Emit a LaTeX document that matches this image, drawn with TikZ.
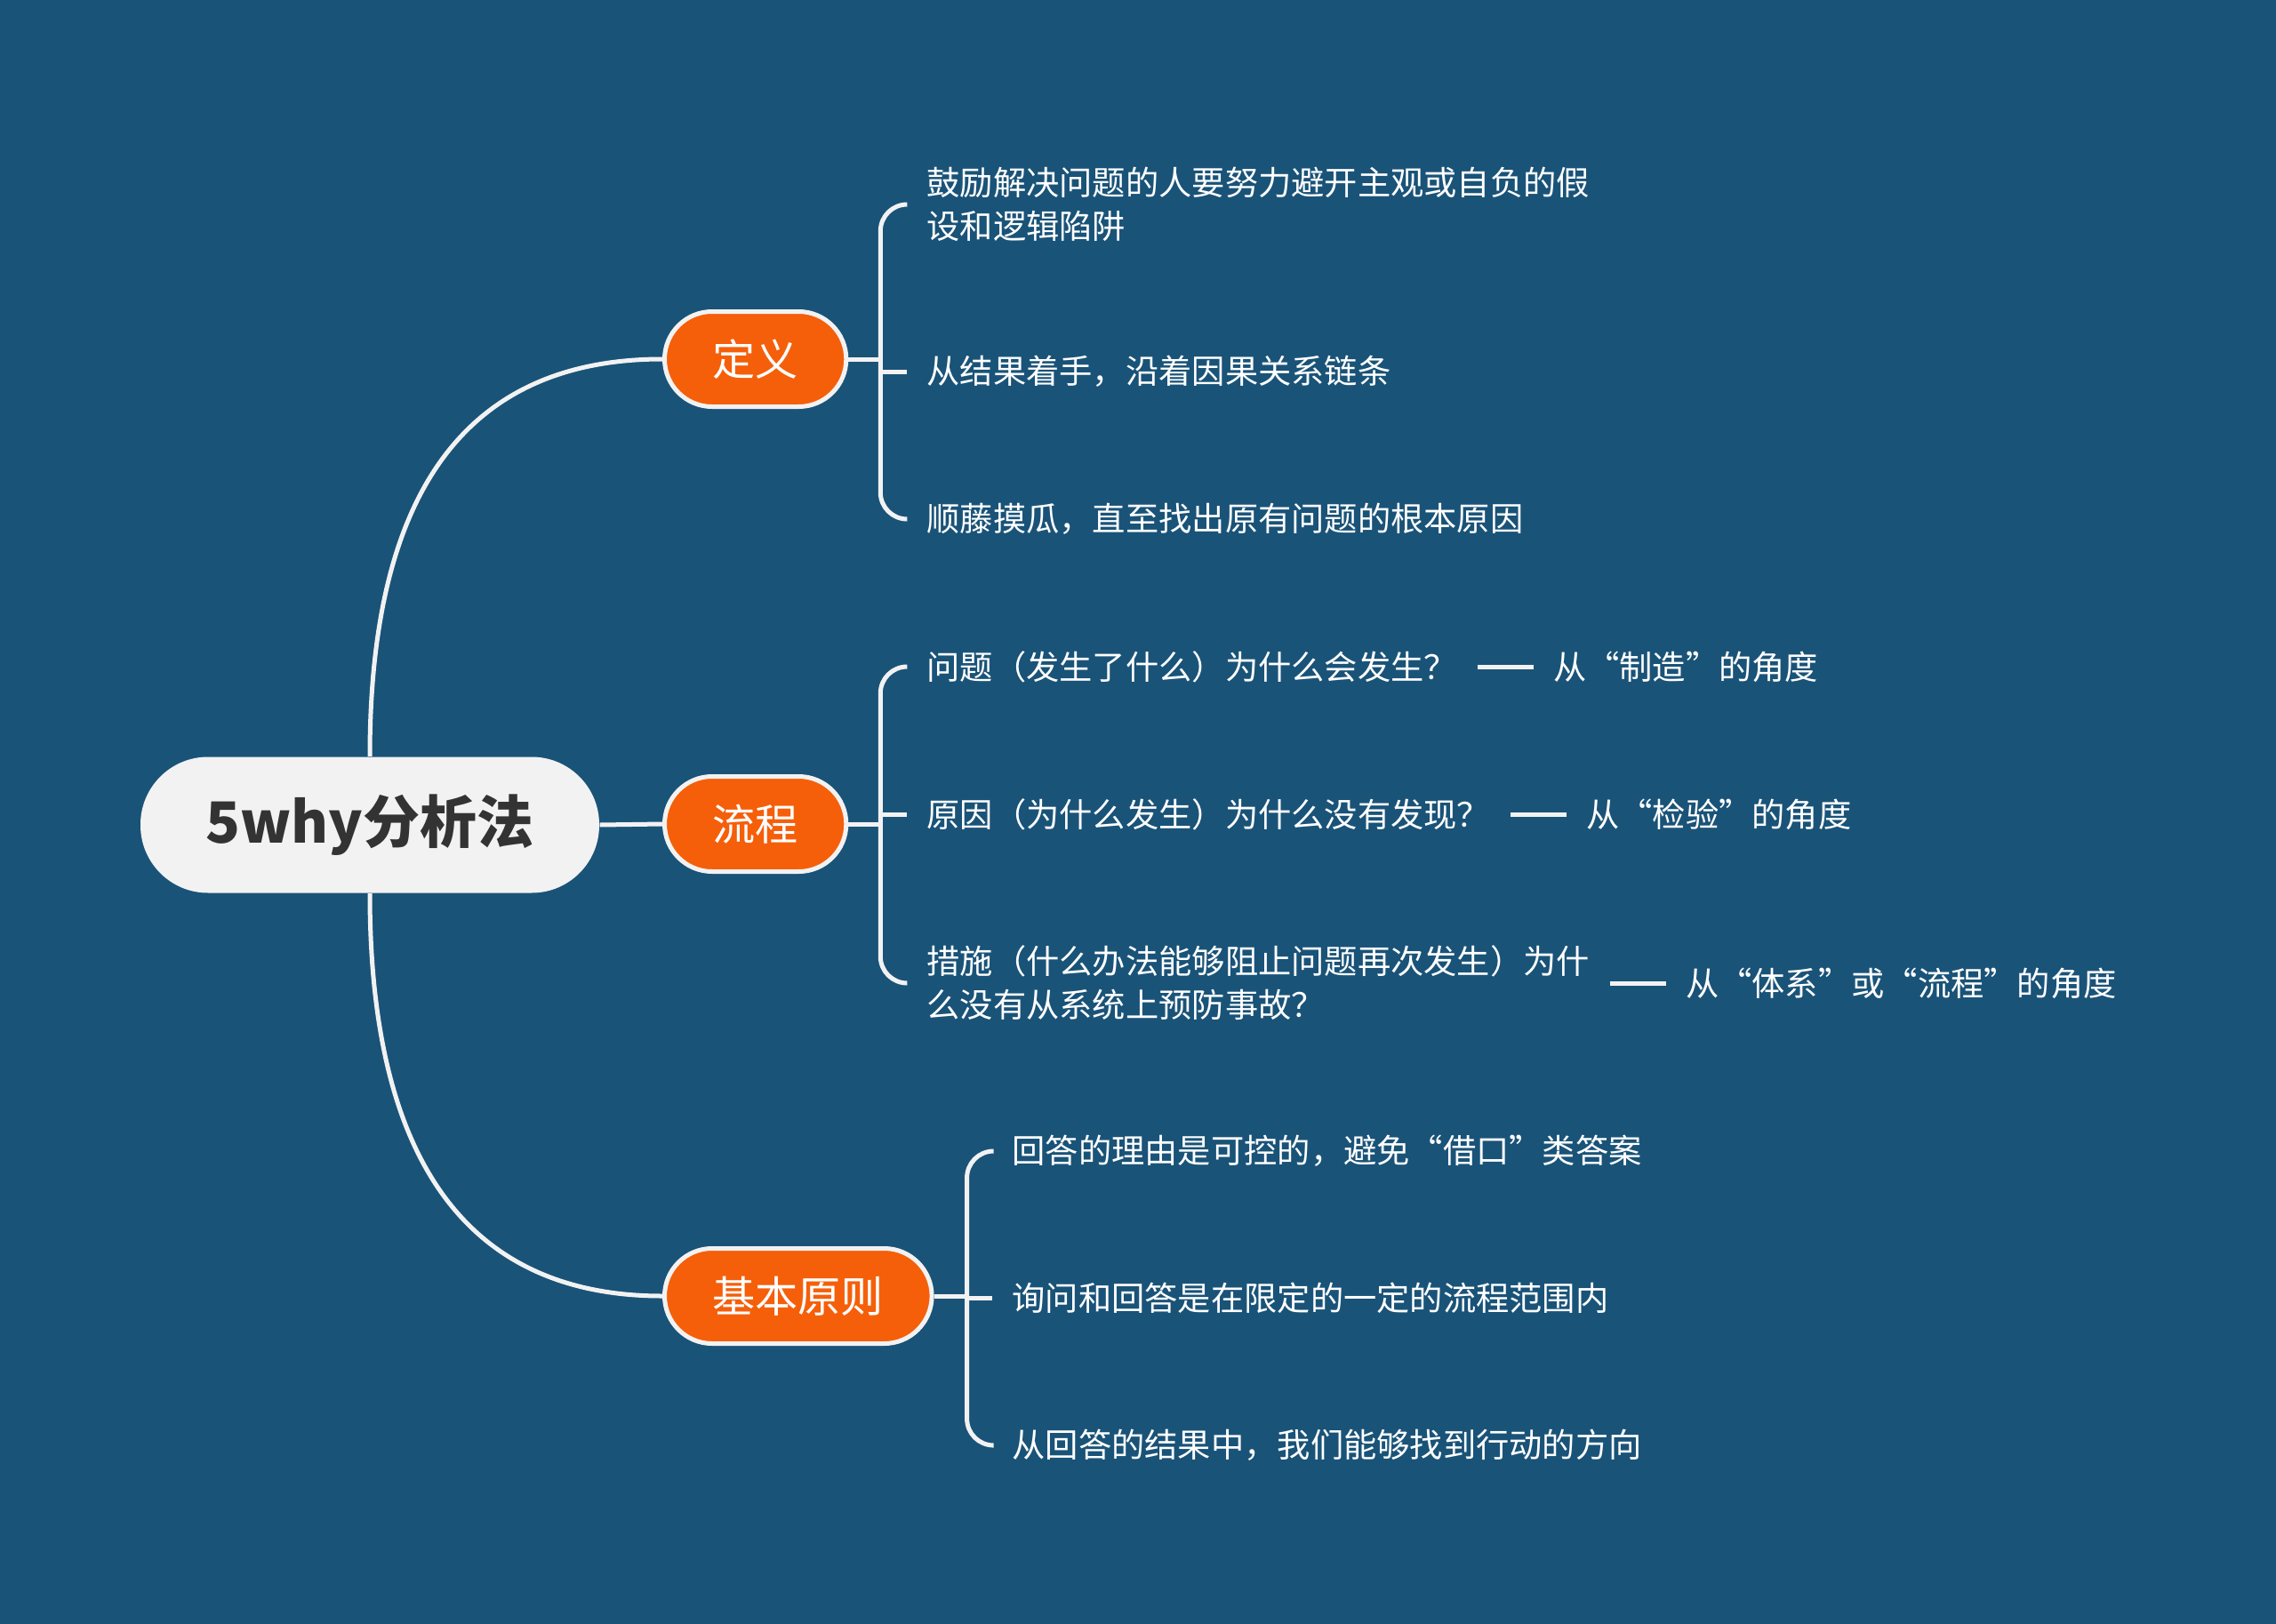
\documentclass[tikz,border=0pt]{standalone}
\usepackage{fontspec}
\newfontfamily\cjk{Noto Sans CJK SC}
\usetikzlibrary{positioning, calc}
\definecolor{bgblue}{RGB}{26, 83, 120}
\definecolor{topicorange}{RGB}{245, 95, 10}
\definecolor{offwhite}{RGB}{242, 242, 242}
\definecolor{darktext}{RGB}{51, 51, 51}

\begin{document}
\begin{tikzpicture}[
  rootbox/.style={fill=offwhite, rounded corners=0.76cm, minimum width=5.16cm, minimum height=1.53cm, inner sep=0pt, text=darktext, font=\cjk\bfseries\fontsize{18.2}{22}\selectfont},
  topic/.style={draw=offwhite, line width=0.05cm, fill=topicorange, rounded corners=0.535cm, minimum height=1.07cm, inner xsep=0.54cm, inner ysep=0pt, anchor=west, text=white, font=\cjk\fontsize{13.7}{16}\selectfont},
  leaf/.style={anchor=west, inner xsep=0.22cm, inner ysep=0pt, align=left, text=white, font=\cjk\fontsize{10.6}{13.9}\selectfont},
  conn/.style={draw=offwhite, line width=0.05cm},
  forkline/.style={conn, rounded corners=0.3cm}
]
  % Background
  \fill[bgblue] (0,0) rectangle (25.6,-18.27);
  \useasboundingbox (0,0) rectangle (25.6,-18.27);

  % Central topic
  \node[rootbox] (root) at (4.16,-9.28) {5why分析法};

  % Main branches
  \node[topic] (def) at (7.45,-4.04) {定义};
  \node[topic] (flow) at (7.45,-9.27) {流程};
  \node[topic] (basic) at (7.45,-14.58) {基本原则};

  % Definition items
  \node[leaf] (d1) at (10.20,-2.30) {鼓励解决问题的人要努力避开主观或自负的假\\设和逻辑陷阱};
  \node[leaf] (d2) at (10.20,-4.18) {从结果着手，沿着因果关系链条};
  \node[leaf] (d3) at (10.20,-5.84) {顺藤摸瓜，直至找出原有问题的根本原因};

  % Process items
  \node[leaf] (f1) at (10.20,-7.50) {问题（发生了什么）为什么会发生？};
  \node[leaf] (f2) at (10.20,-9.16) {原因（为什么发生）为什么没有发现？};
  \node[leaf] (f3) at (10.20,-11.06) {措施（什么办法能够阻止问题再次发生）为什\\么没有从系统上预防事故？};
  \node[leaf, right=0.63cm of f1] (q1) {从“制造”的角度};
  \node[leaf, right=0.63cm of f2] (q2) {从“检验”的角度};
  \node[leaf, right=0.63cm of f3] (q3) {从“体系”或“流程”的角度};

  % Principle items
  \node[leaf] (b1) at (11.16,-12.95) {回答的理由是可控的，避免“借口”类答案};
  \node[leaf] (b2) at (11.16,-14.60) {询问和回答是在限定的一定的流程范围内};
  \node[leaf] (b3) at (11.16,-16.26) {从回答的结果中，我们能够找到行动的方向};

  % Root to branches
  \draw[conn] (root.north) .. controls ($(root.north)+(0,2.94)$) and ($(def.west)+(-2.23,0)$) .. (def.west);
  \draw[conn] (root.east) -- (flow.west);
  \draw[conn] (root.south) .. controls ($(root.south)+(0,-2.95)$) and ($(basic.west)+(-2.23,0)$) .. (basic.west);

  % Forks
  \coordinate[right=0.36cm of def] (defj);
  \coordinate[right=0.36cm of flow] (flowj);
  \coordinate[right=0.37cm of basic] (basicj);

  \draw[conn] (def.east) -- (defj);
  \draw[forkline] (d1.west) -| (defj) |- (d3.west);
  \draw[conn] (defj |- d2.west) -- (d2.west);

  \draw[conn] (flow.east) -- (flowj);
  \draw[forkline] (f1.west) -| (flowj) |- (f3.west);
  \draw[conn] (flowj |- f2.west) -- (f2.west);
  \draw[conn] (f1.east) -- (q1.west);
  \draw[conn] (f2.east) -- (q2.west);
  \draw[conn] (f3.east) -- (q3.west);

  \draw[conn] (basic.east) -- (basicj);
  \draw[forkline] (b1.west) -| (basicj) |- (b3.west);
  \draw[conn] (basicj |- b2.west) -- (b2.west);
\end{tikzpicture}
\end{document}
